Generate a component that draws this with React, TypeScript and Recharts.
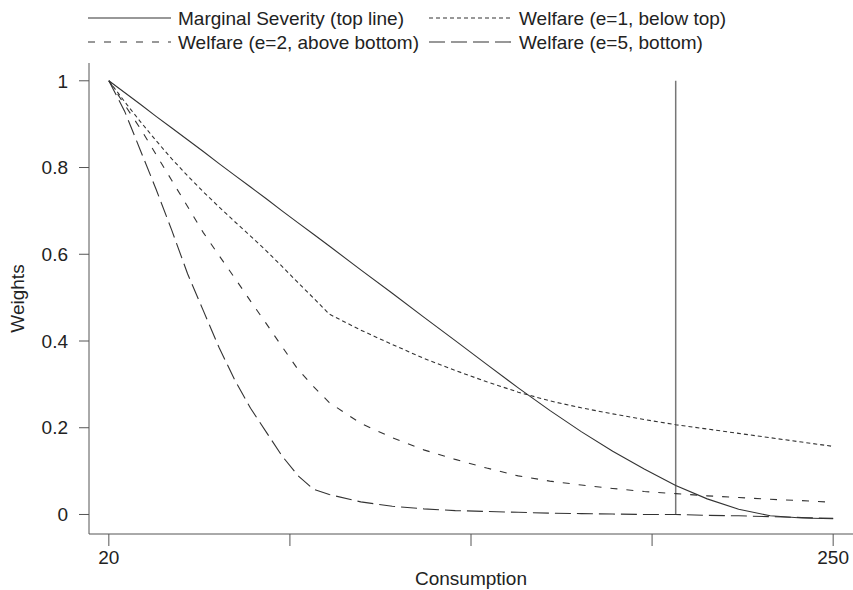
import React from 'react'
import { LineChart, Line, XAxis, YAxis, Label, ReferenceLine } from 'recharts'

// consumption grid
const CONSUMPTION = [
  20, 25, 30, 35, 40, 45, 50, 55, 60, 65, 70, 75, 80, 85, 90,
  100, 110, 120, 130, 140, 150, 160, 170, 180, 190, 200, 210, 220, 230, 240, 250,
]

const MARGINAL_SEVERITY = [
  1, 0.973, 0.946, 0.918, 0.891, 0.864, 0.837, 0.809, 0.782, 0.755, 0.728, 0.7, 0.673, 0.646, 0.619,
  0.564, 0.51, 0.455, 0.401, 0.346, 0.292, 0.24, 0.191, 0.146, 0.105, 0.067, 0.036, 0.012, -0.003, -0.008, -0.01,
]

const WELFARE_E1 = [
  1, 0.952, 0.906, 0.862, 0.82, 0.781, 0.744, 0.709, 0.675, 0.642, 0.608, 0.572, 0.535, 0.499, 0.462,
  0.425, 0.392, 0.36, 0.332, 0.306, 0.282, 0.262, 0.246, 0.232, 0.219, 0.207, 0.197, 0.187, 0.177, 0.167, 0.157,
]

const WELFARE_E2 = [
  1, 0.945, 0.89, 0.83, 0.77, 0.71, 0.65, 0.597, 0.545, 0.492, 0.44, 0.387, 0.335, 0.295, 0.258,
  0.21, 0.177, 0.149, 0.127, 0.107, 0.089, 0.077, 0.068, 0.06, 0.053, 0.048, 0.043, 0.039, 0.035, 0.032, 0.028,
]

const WELFARE_E5 = [
  1, 0.93, 0.84, 0.75, 0.655, 0.555, 0.47, 0.385, 0.31, 0.245, 0.19, 0.135, 0.09, 0.058, 0.046,
  0.029, 0.019, 0.013, 0.009, 0.007, 0.005, 0.003, 0.002, 0.001, 0, 0, -0.002, -0.003, -0.005, -0.007, -0.009,
]

const X_TICKS = [20, 77.5, 135, 192.5, 250]
const X_LABELED = [20, 250]
const Y_TICKS = [0, 0.2, 0.4, 0.6, 0.8, 1]
const CUTOFF = 200
const CUTOFF_RANGE = [0, 1]

const SERIES = [
  { key: 'ms', name: 'Marginal Severity (top line)', dash: undefined },
  { key: 'e1', name: 'Welfare (e=1, below top)', dash: '4 3' },
  { key: 'e2', name: 'Welfare (e=2, above bottom)', dash: '7 9' },
  { key: 'e5', name: 'Welfare (e=5, bottom)', dash: '16 6' },
]

const FONT = '"Liberation Sans", Arial, Helvetica, sans-serif'
const FS = 19
const INK = '#222'
const LINE = '#333'

const data = CONSUMPTION.map((c, i) => ({
  c,
  ms: MARGINAL_SEVERITY[i],
  e1: WELFARE_E1[i],
  e2: WELFARE_E2[i],
  e5: WELFARE_E5[i],
}))

// legend laid out like the R legend: 2 columns, 2 rows
const legendCells = [
  { s: SERIES[0], x: 88, y: 18 },
  { s: SERIES[1], x: 429, y: 18 },
  { s: SERIES[2], x: 88, y: 42 },
  { s: SERIES[3], x: 429, y: 42 },
]

function TopLegend() {
  return (
    <svg width={853} height={60} style={{ position: 'absolute', left: 0, top: 0 }}>
      {legendCells.map(({ s, x, y }) => (
        <g key={s.key}>
          <line x1={x} x2={x + 83} y1={y} y2={y} stroke={LINE} strokeWidth={1.1} strokeDasharray={s.dash} />
          <text x={x + 90} y={y} dy="0.36em" fontSize={FS} fontFamily={FONT} fill={INK}>{s.name}</text>
        </g>
      ))}
    </svg>
  )
}

export default function App() {
  return (
    <div style={{ position: 'absolute', left: 0, top: 0, width: 853, height: 590, background: '#fff' }}>
      <TopLegend />
      <LineChart
        width={853}
        height={590}
        data={data}
        margin={{ top: 63, right: 0, bottom: 0, left: 0 }}
        style={{ position: 'absolute', left: 0, top: 0 }}
      >
        <XAxis
          type="number"
          dataKey="c"
          domain={[13.7, 256.3]}
          allowDataOverflow
          ticks={X_TICKS}
          tickFormatter={(v: number) => (X_LABELED.includes(v) ? String(v) : '')}
          tickSize={12}
          tickMargin={5}
          height={56}
          axisLine={{ stroke: '#555' }}
          tickLine={{ stroke: '#555' }}
          tick={{ fill: INK, fontSize: FS, fontFamily: FONT }}
        >
          <Label value="Consumption" position="insideBottom" offset={5} fill={INK} fontSize={FS} fontFamily={FONT} />
        </XAxis>
        <YAxis
          type="number"
          domain={[-0.045, 1.041]}
          allowDataOverflow
          ticks={Y_TICKS}
          tickFormatter={(v: number) => String(v)}
          width={89}
          tickSize={10}
          tickMargin={11}
          axisLine={{ stroke: '#555' }}
          tickLine={{ stroke: '#555' }}
          tick={{ fill: INK, fontSize: FS, fontFamily: FONT }}
        >
          <Label
            value="Weights"
            angle={-90}
            position="insideLeft"
            offset={17}
            fill={INK}
            fontSize={FS}
            fontFamily={FONT}
            style={{ textAnchor: 'middle' }}
          />
        </YAxis>
        <ReferenceLine
          segment={[{ x: CUTOFF, y: CUTOFF_RANGE[0] }, { x: CUTOFF, y: CUTOFF_RANGE[1] }]}
          stroke="#777"
          strokeWidth={1.5}
          ifOverflow="visible"
        />
        {SERIES.map((s) => (
          <Line
            key={s.key}
            type="linear"
            dataKey={s.key}
            name={s.name}
            stroke={LINE}
            strokeWidth={1.1}
            strokeDasharray={s.dash}
            dot={false}
            activeDot={false}
            isAnimationActive={false}
          />
        ))}
      </LineChart>
    </div>
  )
}
